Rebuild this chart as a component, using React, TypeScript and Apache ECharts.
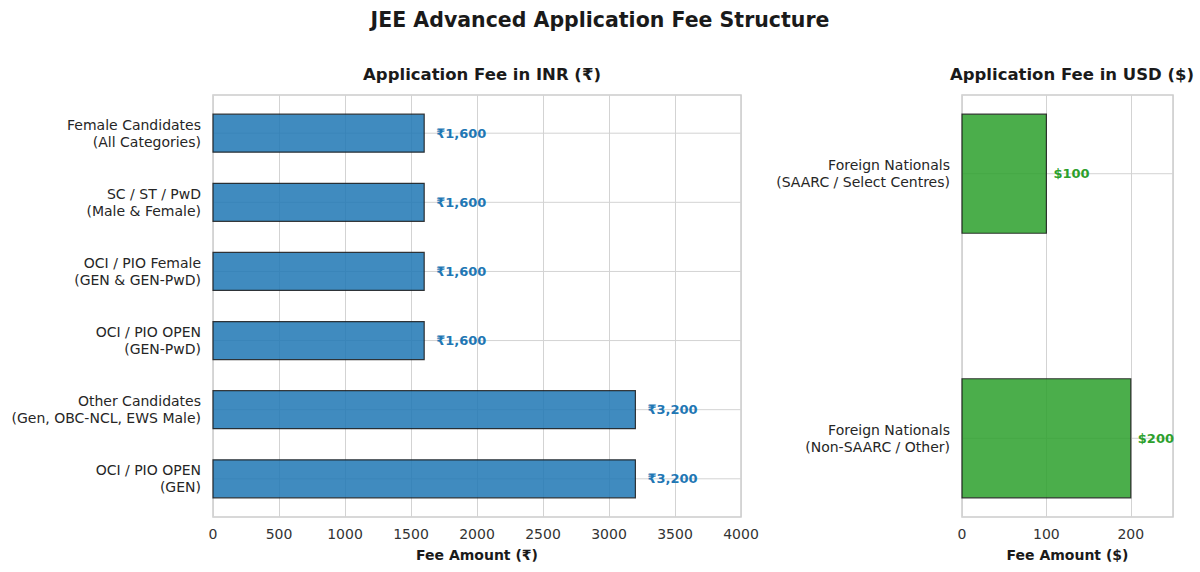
import { useEffect, useRef } from "react";
import * as echarts from "echarts";

const inrCategories = [
  "Female Candidates\n(All Categories)",
  "SC / ST / PwD\n(Male & Female)",
  "OCI / PIO Female\n(GEN & GEN-PwD)",
  "OCI / PIO OPEN\n(GEN-PwD)",
  "Other Candidates\n(Gen, OBC-NCL, EWS Male)",
  "OCI / PIO OPEN\n(GEN)",
];
const inrFees = [1600, 1600, 1600, 1600, 3200, 3200];

const usdCategories = [
  "Foreign Nationals\n(SAARC / Select Centres)",
  "Foreign Nationals\n(Non-SAARC / Other)",
];
const usdFees = [100, 200];

const FONT = '"DejaVu Sans", Verdana, sans-serif';
const BLUE = "#1f77b4";
const GREEN = "#2ca02c";

// matplotlib-like y range: bar height h, 5% margins
const yRange = (n: number, h: number) => {
  const span = n - 1 + h;
  const pad = h / 2 + span * 0.05;
  return [-pad, n - 1 + pad];
};

const barSeries = (
  idx: number,
  fees: number[],
  barH: number,
  color: string,
  labelColor: string,
  fmt: (v: number) => string,
  offset: number
) => ({
  type: "custom",
  xAxisIndex: idx,
  yAxisIndex: idx,
  z: 3,
  data: fees.map((v, i) => [v, i]),
  encode: { x: 0, y: 1 },
  renderItem: (_: any, api: any) => {
    const v = api.value(0);
    const i = api.value(1);
    const s = api.coord([0, i]);
    const e = api.coord([v, i]);
    const h = api.size([0, barH])[1];
    return {
      type: "group",
      children: [
        {
          type: "rect",
          shape: { x: s[0], y: s[1] - h / 2, width: e[0] - s[0], height: h },
          style: { fill: color, opacity: 0.85, stroke: "#1a1a1a", lineWidth: 1.2 },
        },
        {
          type: "text",
          style: {
            text: fmt(v),
            x: e[0] + offset,
            y: e[1],
            align: "left",
            verticalAlign: "middle",
            fill: labelColor,
            font: `bold 13px ${FONT}`,
          },
        },
      ],
    };
  },
});

const gridLineSeries = (idx: number, n: number, xMax: number) => ({
  type: "custom",
  xAxisIndex: idx,
  yAxisIndex: idx,
  z: 1,
  silent: true,
  data: Array.from({ length: n }, (_, i) => [0, i]),
  encode: { x: 0, y: 1 },
  renderItem: (_: any, api: any) => {
    const i = api.value(1);
    const a = api.coord([0, i]);
    const b = api.coord([xMax, i]);
    return {
      type: "line",
      shape: { x1: a[0], y1: a[1], x2: b[0], y2: b[1] },
      style: { stroke: "#d3d3d3", lineWidth: 1 },
    };
  },
});

const App = () => {
  const ref = useRef<HTMLDivElement>(null);

  useEffect(() => {
    document.body.style.margin = "0";
    if (!ref.current) return;
    const chart = echarts.init(ref.current, null, { renderer: "svg" });

    const [inrMin, inrMax] = yRange(inrCategories.length, 0.55);
    const [usdMin, usdMax] = yRange(usdCategories.length, 0.45);

    const xCommon = {
      type: "value",
      nameLocation: "middle",
      nameGap: 31,
      nameTextStyle: { fontFamily: FONT, fontWeight: "bold", fontSize: 14, color: "#1a1a1a" },
      axisLine: { show: false },
      axisTick: { show: false },
      axisLabel: {
        fontFamily: FONT,
        fontSize: 14,
        color: "#333",
        margin: 10,
        formatter: (v: number) => String(v),
      },
      splitLine: { show: true, lineStyle: { color: "#d3d3d3", width: 1 } },
    };
    const yLabel = {
      fontFamily: FONT,
      fontSize: 14,
      color: "#262626",
      lineHeight: 17,
      margin: 12,
      align: "right",
    };
    const yCommon = {
      type: "value",
      inverse: true,
      axisLine: { show: false },
      axisTick: { show: false },
      splitLine: { show: false },
    };
    const subTitle = { fontFamily: FONT, fontSize: 16.5, fontWeight: "bold", color: "#1a1a1a" };

    chart.setOption({
      animation: false,
      backgroundColor: "#fff",
      title: [
        {
          text: "JEE Advanced Application Fee Structure",
          left: "center",
          top: 4,
          textStyle: { fontFamily: FONT, fontSize: 20.5, fontWeight: "bold", color: "#1a1a1a" },
        },
        { text: "Application Fee in INR (₹)", left: 477, textAlign: "center", top: 61, textStyle: subTitle },
        { text: "Application Fee in USD ($)", left: 1067, textAlign: "center", top: 61, textStyle: subTitle },
      ],
      grid: [
        { left: 213, right: 459, top: 95, bottom: 55, show: true, borderColor: "#cccccc", borderWidth: 1.5 },
        { left: 962, right: 27, top: 95, bottom: 55, show: true, borderColor: "#cccccc", borderWidth: 1.5 },
      ],
      xAxis: [
        { ...xCommon, gridIndex: 0, min: 0, max: 4000, interval: 500, name: "Fee Amount (₹)" },
        {
          ...xCommon,
          gridIndex: 1,
          min: 0,
          max: 250,
          interval: 100,
          name: "Fee Amount ($)",
          axisLabel: {
            ...xCommon.axisLabel,
            formatter: (v: number) => (v % 100 === 0 ? String(v) : ""),
          },
        },
      ],
      yAxis: [
        {
          ...yCommon,
          gridIndex: 0,
          min: inrMin,
          max: inrMax,
          axisLabel: {
            ...yLabel,
            customValues: inrCategories.map((_, i) => i),
            formatter: (v: number) => inrCategories[Math.round(v)] ?? "",
          },
        },
        {
          ...yCommon,
          gridIndex: 1,
          min: usdMin,
          max: usdMax,
          axisLabel: {
            ...yLabel,
            customValues: usdCategories.map((_, i) => i),
            formatter: (v: number) => usdCategories[Math.round(v)] ?? "",
          },
        },
      ],
      series: [
        gridLineSeries(0, inrCategories.length, 4000),
        gridLineSeries(1, usdCategories.length, 250),
        barSeries(0, inrFees, 0.55, BLUE, BLUE, (v) => `₹${v.toLocaleString("en-US")}`, 12),
        barSeries(1, usdFees, 0.45, GREEN, GREEN, (v) => `$${v}`, 7),
      ],
    });

    return () => chart.dispose();
  }, []);

  return <div ref={ref} style={{ width: 1200, height: 572 }} />;
};

export default App;
